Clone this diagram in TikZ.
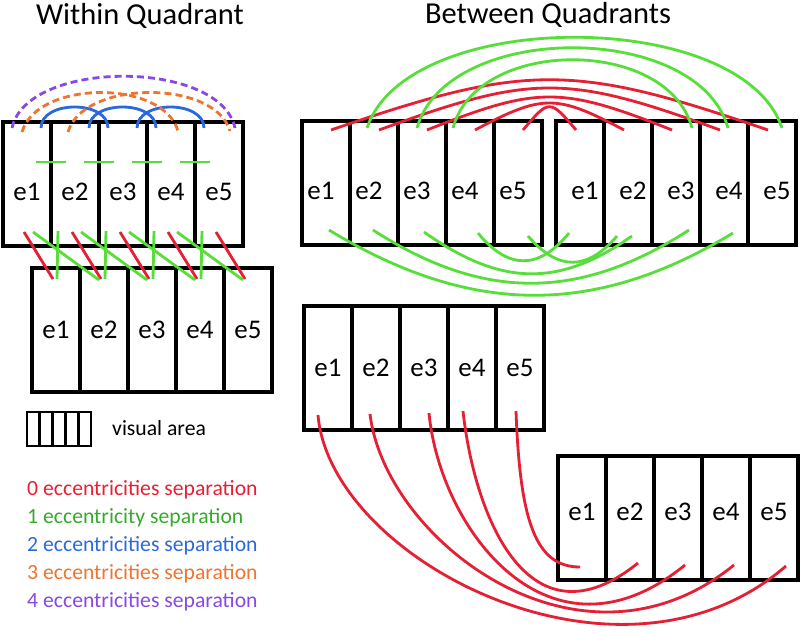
\documentclass[tikz,border=0pt]{standalone}
\usepackage{fontspec}
\setmainfont{Carlito}
\usepackage{xcolor}
\usetikzlibrary{calc}

\definecolor{redsep}{RGB}{230,32,52}
\definecolor{greensep}{RGB}{88,222,58}
\definecolor{greentext}{RGB}{52,170,44}
\definecolor{bluesep}{RGB}{42,104,222}
\definecolor{orangesep}{RGB}{238,116,48}
\definecolor{purplesep}{RGB}{136,72,228}

\begin{document}
\begin{tikzpicture}[
    x=0.03cm, y=-0.03cm,
    cell/.style={rectangle, draw, line width=2.9pt, minimum width=1.44cm, minimum height=3.72cm, inner sep=0pt, outer sep=0pt, anchor=north west},
    mini/.style={rectangle, draw, line width=2.5pt, minimum width=0.384cm, minimum height=1.02cm, inner sep=0pt, outer sep=0pt, anchor=north west},
    elabel/.style={font=\fontsize{23}{26}\selectfont, inner sep=0pt},
    heading/.style={font=\fontsize{26}{30}\selectfont, anchor=base, inner sep=0pt},
    legtext/.style={font=\fontsize{18.5}{21}\selectfont, anchor=base west, inner sep=0pt},
    link/.style={line width=2.4pt},
    linezero/.style={link, draw=redsep},
    lineone/.style={link, draw=greensep},
    linetwo/.style={link, draw=bluesep},
    linethree/.style={link, draw=orangesep, dash pattern=on 6pt off 3.5pt},
    linefour/.style={link, draw=purplesep, dash pattern=on 6pt off 3.5pt}
  ]
  \useasboundingbox (0,0) rectangle (800,632);

  % Titles
  \node[heading] (within) at (140,24) {Within Quadrant};
  \node[heading] (between) at (548,23) {Between Quadrants};

  % Within quadrant: two visual areas
  \foreach \i in {1,...,5}
    \node[cell, label={[elabel, yshift=-6.8pt]center:e\i}] (wa\i) at ({3+(\i-1)*48},122) {};
  \foreach \i in {1,...,5}
    \node[cell, label={[elabel]center:e\i}] (wb\i) at ({32+(\i-1)*48},268) {};

  % Between quadrants: upper pair
  \foreach \i in {1,...,5}
    \node[cell, label={[elabel, xshift=-4.25pt, yshift=-6.8pt]center:e\i}] (qa\i) at ({302+(\i-1)*48},121) {};
  \foreach \i in {1,...,5}
    \node[cell, label={[elabel, xshift=4.25pt, yshift=-6.8pt]center:e\i}] (qb\i) at ({556+(\i-1)*48},121) {};

  % Between quadrants: lower pair
  \foreach \i in {1,...,5}
    \node[cell, label={[elabel]center:e\i}] (qc\i) at ({304+(\i-1)*48},306) {};
  \foreach \i in {1,...,5}
    \node[cell, label={[elabel, yshift=5pt]center:e\i}] (qd\i) at ({558+(\i-1)*48},456) {};

  % Legend
  \foreach \i in {1,...,5}
    \node[mini] (leg\i) at ({27+(\i-1)*12.8},412) {};
  \node[legtext] (legarea) at (112,435) {visual area};
  \node[legtext, text=redsep] (legzero) at (27,495) {0 eccentricities separation};
  \node[legtext, text=greentext] (legone) at (27,523) {1 eccentricity separation};
  \node[legtext, text=bluesep] (legtwo) at (27,551) {2 eccentricities separation};
  \node[legtext, text=orangesep] (legthree) at (27,579) {3 eccentricities separation};
  \node[legtext, text=purplesep] (legfour) at (27,607) {4 eccentricities separation};

  % Within quadrant links
  \foreach \i in {1,...,5}
    \draw[linezero] ($(wa\i.south)+(-3,-14)$) -- ($(wb\i.north)+(-3,11)$);
  \foreach \i [count=\j from 2] in {1,...,4} {
    \draw[lineone] ($(wa\i.south)+(6,-14)$) -- ($(wb\j.north)+(-5,12)$);
    \draw[lineone] ($(wa\j.south)+(-17,-15)$) -- ($(wb\i.north)+(1,11)$);
    \draw[lineone] ($(wa\i.center)+(9,-22)$) -- ($(wa\j.center)+(-9,-22)$);
  }
  \foreach \i [count=\j from 3] in {1,2,3}
    \draw[linetwo] ($(wa\i.north)+(14,6)$) .. controls +(0,-28) and +(0,-28) .. ($(wa\j.north)+(-15,6)$);
  \draw[linethree] ($(wa1.north)+(-5,10)$) .. controls +(15,-52) and +(-15,-52) .. ($(wa4.north)+(7,9)$);
  \draw[linethree] ($(wa2.north)+(-7,10)$) .. controls +(15,-52) and +(-15,-52) .. ($(wa5.north)+(11,9)$);
  \draw[linefour] ($(wa1.north)+(-15,6)$) .. controls +(15,-69) and +(-15,-69) .. ($(wa5.north)+(16,6)$);

  % Between quadrants, upper pair: links above
  \foreach \i/\k/\h/\d in {1/5/67/195, 2/4/56/153, 3/3/44/111, 4/2/36/68, 5/1/31/26}
    \draw[linezero] ($(qa\i.north)+(5,9)$) .. controls +(\d,-\h) and +(-\d,-\h) .. ($(qb\k.north)+(-4,9)$);
  \foreach \i/\k/\s/\t/\h/\d in {2/5/-7/10/121/40, 3/4/-5/4/107/30, 4/3/-17/16/91/24}
    \draw[lineone] ($(qa\i.north)+(\s,7)$) .. controls +(\d,-\h) and +(-\d,-\h) .. ($(qb\k.north)+(\t,7)$);

  % Between quadrants, upper pair: links below
  \draw[lineone] ($(qa1.south)+(3,-15)$) .. controls +(140,85) and +(-140,85) .. ($(qb4.south)+(9,-12)$);
  \draw[lineone] ($(qa2.south)+(-1,-15)$) .. controls +(110,71) and +(-110,71) .. ($(qb3.south)+(13,-15)$);
  \draw[lineone] ($(qa3.south)+(2,-13)$) .. controls +(75,53) and +(-75,53) .. ($(qb2.south)+(4,-9)$);
  \draw[lineone] ($(qa4.south)+(8,-12)$) .. controls +(30,37) and +(-30,37) .. ($(qb1.south)+(-11,-12)$);
  \draw[lineone] ($(qa5.south)+(10,-9)$) .. controls +(30,35) and +(-30,35) .. ($(qb2.south)+(-11,-9)$);

  % Between quadrants, lower pair
  \draw[linezero] ($(qc1.south)+(-10,-15)$) .. controls +(12,145) and +(-166,144) .. ($(qd5.south)+(12,-14)$);
  \draw[linezero] ($(qc2.south)+(-6,-16)$) .. controls +(15,126) and +(-154,125) .. ($(qd4.south)+(8,-15)$);
  \draw[linezero] ($(qc3.south)+(5,-17)$) .. controls +(11,117) and +(-135,110) .. ($(qd3.south)+(7,-15)$);
  \draw[linezero] ($(qc4.south)+(-9,-19)$) .. controls +(12,109) and +(-108,87) .. ($(qd2.south)+(8,-17)$);
  \draw[linezero] ($(qc5.south)+(-4,-19)$) .. controls +(4,109) and +(-45,0) .. ($(qd1.south)+(-2,-13)$);

\end{tikzpicture}
\end{document}
